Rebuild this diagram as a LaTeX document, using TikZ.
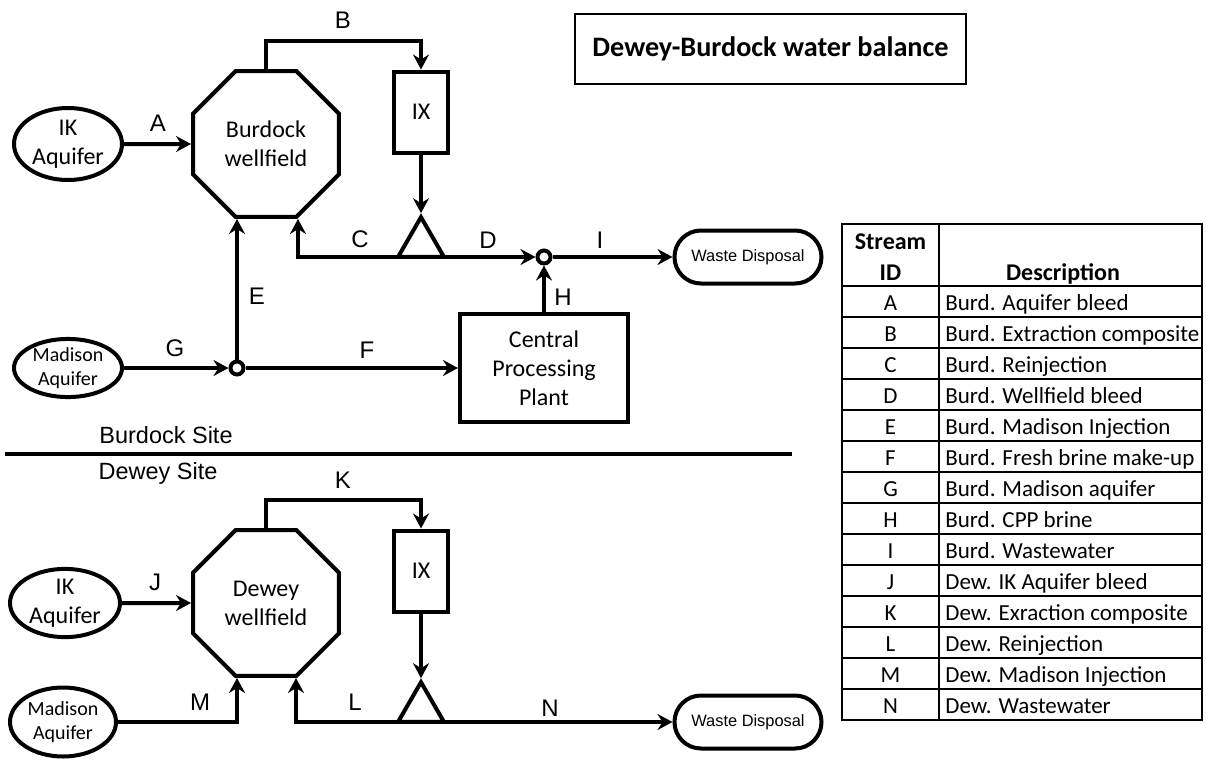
\documentclass[tikz,border=0pt]{standalone}
\usepackage{fontspec}
\setmainfont{Carlito}
\newfontfamily\arialfont{Liberation Sans}
\usetikzlibrary{shapes.geometric,arrows.meta}
\newcommand{\tagfont}{\arialfont\fontsize{12}{14}\selectfont}
\newcommand{\wffont}{\fontsize{12}{14.5}\selectfont}
\newcommand{\madfont}{\fontsize{10}{12}\selectfont}
\newcommand{\wdfont}{\arialfont\fontsize{8.2}{10}\selectfont}
\newcommand{\sitefont}{\arialfont\fontsize{11.75}{14}\selectfont}
\newcommand{\ttlfont}{\bfseries\fontsize{14.1}{17}\selectfont}
\newcommand{\tabfont}{\fontsize{11.5}{14}\selectfont}
\newcommand{\hdfont}{\bfseries\fontsize{12}{14}\selectfont}

\begin{document}
\begin{tikzpicture}[x=0.5pt,y=-0.5pt,>={Stealth[length=7.5pt,width=8pt,inset=2.5pt]},
flow/.style={line width=2pt,->},
aqf/.style n args={3}{ellipse,draw,line width=2pt,inner sep=0pt,align=center,font=#3,minimum width=#1,minimum height=#2},
wfield/.style={regular polygon,regular polygon sides=8,draw,line width=2pt,inner sep=0pt,minimum size=79pt,align=center,font=\wffont},
unit/.style n args={2}{rectangle,draw,line width=2pt,align=center,font=\wffont,minimum width=#1,minimum height=#2},
ixtri/.style={regular polygon,regular polygon sides=3,draw,line width=2pt,inner sep=0pt,minimum size=26.5pt},
junc/.style={circle,draw,fill=white,line width=2pt,inner sep=0pt,minimum size=6.5pt},
sink/.style={rectangle,draw,line width=2pt,rounded corners=13.25pt,minimum width=73.5pt,minimum height=26.5pt,font=\wdfont},
tag/.style={font=\tagfont,inner sep=0pt},
site/.style={font=\sitefont,inner sep=0pt}]
\useasboundingbox (0,0) rectangle (1206,761);

% Burdock site
\node[aqf={54pt}{36pt}{\wffont}] (ik1) at (68,144) {IK\\Aquifer};
\node[aqf={54pt}{25pt}{\madfont}] (mad1) at (68,368) {Madison\\Aquifer};
\node[wfield] (wf1) at (266,144) {Burdock\\wellfield};
\node[unit={27pt}{40.5pt}] (ix1) at (421,112) {IX};
\node[ixtri] (tri1) at (421,243.7) {};
\node[junc] (jd) at (544,257) {};
\node[sink] (wd1) at (748,257) {Waste Disposal};
\node[unit={84pt}{54pt}] (cpp) at (544,368) {Central\\Processing\\Plant};
\node[junc] (jg) at (237,368) {};
\coordinate (c1) at (298,257);

\draw[flow] (ik1) -- (wf1);
\draw[flow] (wf1.north) -- ++(0,-28) -| (ix1.north);
\draw[flow] (ix1) -- (tri1);
\draw[flow,<->] (c1 |- wf1.south) -- (c1) -- (jd);
\draw[flow] (jd) -- (wd1);
\draw[flow] (cpp) -- (jd);
\draw[flow] (mad1) -- (jg);
\draw[flow] (jg) -- (cpp);
\draw[flow] (jg) -- (jg |- wf1.south);

\node[site] (bsite) at (166,435) {Burdock Site};
\draw[line width=2pt] (5,454) -- (792,454);
\node[site] (dsite) at (158,473) {Dewey Site};

% Dewey site
\node[aqf={55pt}{32.5pt}{\wffont}] (ik2) at (65,603) {IK\\Aquifer};
\node[aqf={53pt}{34.5pt}{\madfont}] (mad2) at (63,722) {Madison\\Aquifer};
\node[wfield] (wf2) at (266,603) {Dewey\\wellfield};
\node[unit={27pt}{40.5pt}] (ix2) at (421,571) {IX};
\node[ixtri] (tri2) at (421,708.7) {};
\node[sink] (wd2) at (748,722) {Waste Disposal};
\coordinate (c2) at (296,722);
\coordinate (m2) at (237,722);

\draw[flow] (ik2) -- (wf2);
\draw[flow] (wf2.north) -- ++(0,-28) -| (ix2.north);
\draw[flow] (ix2) -- (tri2);
\draw[flow,<->] (c2 |- wf2.south) -- (c2) -- (wd2);
\draw[flow] (mad2) -- (m2) -- (m2 |- wf2.south);

\foreach \t/\x/\y in {A/158/123,B/343/20,C/360/239,D/488/240,E/257/296,F/367/350,G/175/348,H/563/297,I/600/240,J/155/582,K/343/480,L/355/702,M/200/702,N/550/708} {
   \node[tag] (l\t) at (\x,\y) {\t};
}

% title and table
\node[draw,line width=1pt,minimum width=195.5pt,minimum height=35pt,font=\ttlfont] (title) at (770.5,49) {Dewey-Burdock water balance};

\draw[line width=1pt] (842,224) rectangle (1202,720);
\draw[line width=1pt] (939,224) -- (939,720);
\draw[line width=1pt] (842,286) -- (1202,286);
\node[font=\hdfont,anchor=base] (hst) at (890.5,249) {Stream};
\node[font=\hdfont,anchor=base] (hid) at (890.5,280) {ID};
\node[font=\hdfont,anchor=base] (hds) at (1063,280) {Description};
\foreach \y/\id/\desc in {0/A/Burd. Aquifer bleed,1/B/Burd. Extraction composite,2/C/Burd. Reinjection,3/D/Burd. Wellfield bleed,4/E/Burd. Madison Injection,5/F/Burd. Fresh brine make-up,6/G/Burd. Madison aquifer,7/H/Burd. CPP brine,8/I/Burd. Wastewater,9/J/Dew. IK Aquifer bleed,10/K/Dew. Exraction composite,11/L/Dew. Reinjection,12/M/Dew. Madison Injection,13/N/Dew. Wastewater} {
   \node[font=\tabfont,anchor=base] (id\y) at (890.5,310.5+31*\y) {\id};
   \node[font=\tabfont,anchor=base west,inner sep=0pt] (ds\y) at (945,310.5+31*\y) {\desc};
   \draw[line width=1pt] (842,317+31*\y) -- (1202,317+31*\y);
}
\end{tikzpicture}
\end{document}
